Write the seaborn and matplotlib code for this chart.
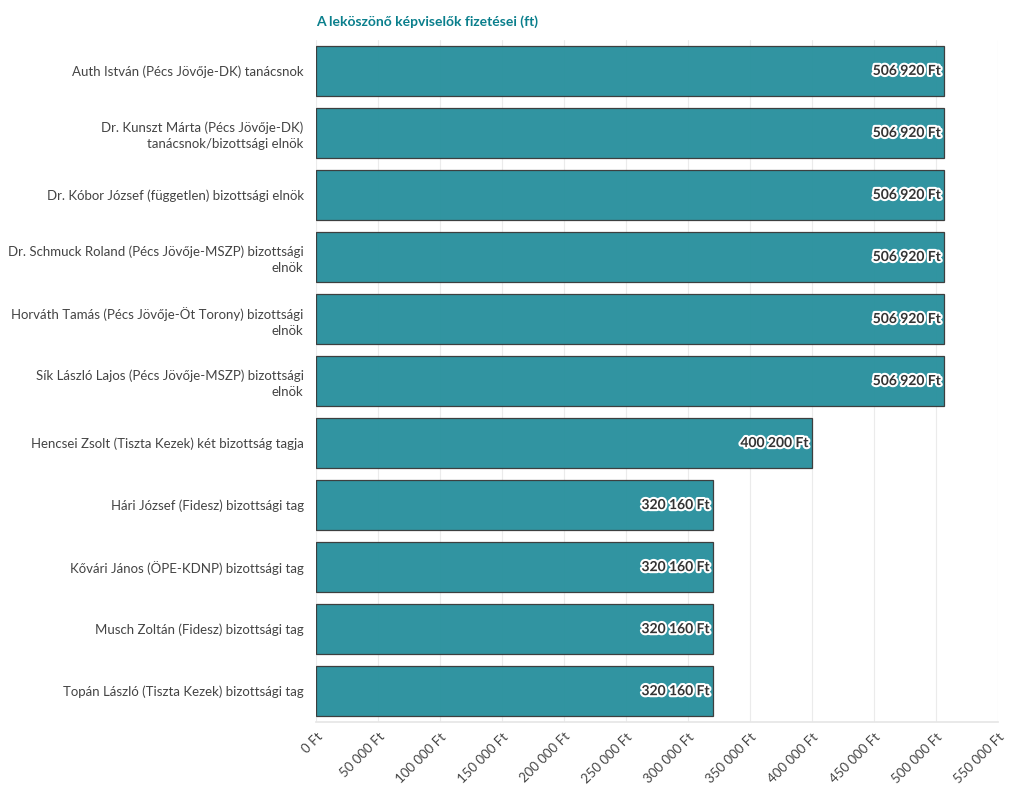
import pandas as pd
import matplotlib.pyplot as plt
import matplotlib.patheffects as pe
import matplotlib.ticker as mticker
import seaborn as sns

nevek = [
    'Auth István (Pécs Jövője-DK) tanácsnok',
    'Dr. Kunszt Márta (Pécs Jövője-DK)\ntanácsnok/bizottsági elnök',
    'Dr. Kóbor József (független) bizottsági elnök',
    'Dr. Schmuck Roland (Pécs Jövője-MSZP) bizottsági\nelnök',
    'Horváth Tamás (Pécs Jövője-Öt Torony) bizottsági\nelnök',
    'Sík László Lajos (Pécs Jövője-MSZP) bizottsági\nelnök',
    'Hencsei Zsolt (Tiszta Kezek) két bizottság tagja',
    'Hári József (Fidesz) bizottsági tag',
    'Kővári János (ÖPE-KDNP) bizottsági tag',
    'Musch Zoltán (Fidesz) bizottsági tag',
    'Topán László (Tiszta Kezek) bizottsági tag',
]
fizetes = [506920, 506920, 506920, 506920, 506920, 506920, 400200, 320160, 320160, 320160, 320160]

df = pd.DataFrame({'nev': nevek, 'fizetes': fizetes})


def ft(v, pos=None):
    return f'{int(v):,}'.replace(',', ' ') + ' Ft'


sns.set_theme(style='white')
plt.rcParams['font.family'] = ['Lato', 'DejaVu Sans']

fig = plt.figure(figsize=(10.2, 7.98), dpi=100)
ax = fig.add_axes([0.31, 0.095, 0.668, 0.855])

sns.barplot(data=df, x='fizetes', y='nev', color='#2a919e', saturation=1, alpha=0.97,
            edgecolor='#3a3a3a', linewidth=0.9, width=0.8, ax=ax)

ax.set_xlim(0, 550000)
ax.set_ylim(10.5, -0.5)
ax.xaxis.set_major_locator(mticker.MultipleLocator(50000))
ax.xaxis.set_major_formatter(mticker.FuncFormatter(ft))
ax.grid(axis='x', color='#ebebeb', linewidth=0.8)
ax.set_axisbelow(True)
for s in ['top', 'right', 'left']:
    ax.spines[s].set_visible(False)
ax.spines['bottom'].set_color('#e6e6e6')
ax.set_xlabel('')
ax.set_ylabel('')
ax.tick_params(axis='x', length=4, color='#e6e6e6', labelsize=9.5, labelcolor='#444444', pad=2)
ax.tick_params(axis='y', length=0, labelsize=9.5, labelcolor='#444444', pad=9)
plt.setp(ax.get_xticklabels(), rotation=45, ha='right', rotation_mode='anchor')
for lab in ax.get_yticklabels():
    lab.set_multialignment('right')
    lab.set_linespacing(1.35)

for i, v in enumerate(fizetes):
    ax.text(v - 2500, i, ft(v), ha='right', va='center', fontsize=10, fontweight='bold',
            color='#333333', path_effects=[pe.withStroke(linewidth=3, foreground='white')])

ax.set_title('A leköszönő képviselők fizetései (ft)', loc='left', fontsize=10, fontweight='bold',
             color='#0a7f8c', pad=10)

fig.savefig('out.png', dpi=100)
